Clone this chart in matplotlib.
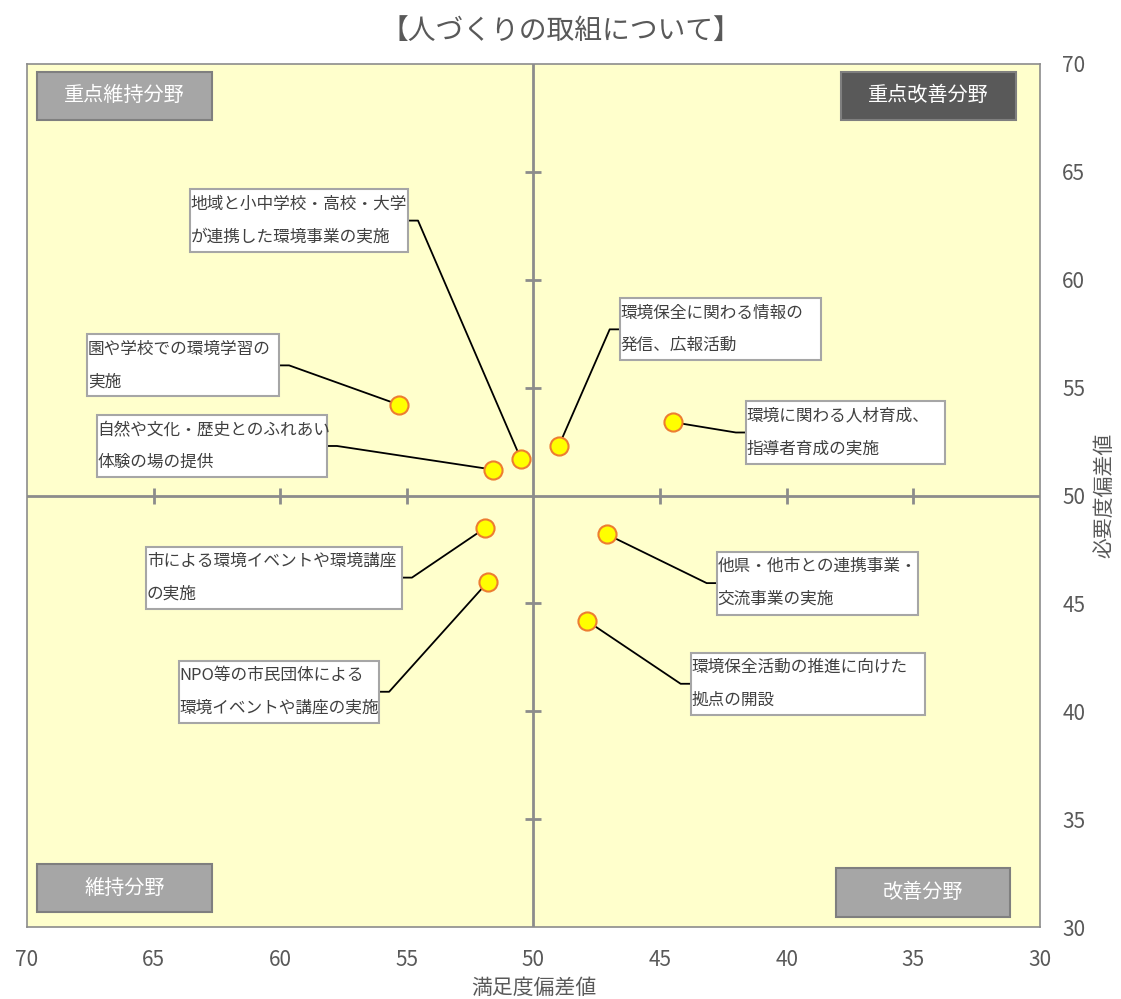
import matplotlib.pyplot as plt
from matplotlib.patches import Rectangle

plt.rcParams['font.family'] = ['Noto Sans CJK JP', 'DejaVu Sans']

# 取組ごとの満足度・必要度
names = [
    '地域と小中学校・高校・大学\nが連携した環境事業の実施',
    '園や学校での環境学習の\n実施',
    '自然や文化・歴史とのふれあい\n体験の場の提供',
    '環境保全に関わる情報の\n発信、広報活動',
    '環境に関わる人材育成、\n指導者育成の実施',
    '市による環境イベントや環境講座\nの実施',
    'NPO等の市民団体による\n環境イベントや講座の実施',
    '他県・他市との連携事業・\n交流事業の実施',
    '環境保全活動の推進に向けた\n拠点の開設',
]
manzoku = [50.5, 55.3, 51.6, 49.0, 44.5, 51.9, 51.8, 47.1, 47.9]
hitsuyou = [51.7, 54.2, 51.2, 52.3, 53.4, 48.5, 46.0, 48.2, 44.2]

quad_names = ['重点維持分野', '重点改善分野', '維持分野', '改善分野']
x_ticks = [70, 65, 60, 55, 50, 45, 40, 35, 30]
y_ticks = [30, 35, 40, 45, 50, 55, 60, 65, 70]

# ラベル枠の位置 (左, 右, 上, 下) ※x軸は反転
label_boxes = [
    (63.56, 54.96, 64.20, 61.28),
    (67.63, 60.05, 57.47, 54.59),
    (67.24, 58.16, 53.71, 50.88),
    (46.59, 38.65, 59.14, 56.26),
    (41.61, 33.76, 54.36, 51.48),
    (65.30, 55.20, 47.63, 44.76),
    (64.00, 56.10, 42.34, 39.47),
    (42.76, 34.82, 47.40, 44.48),
    (43.79, 34.55, 42.71, 39.84),
]
quad_boxes = [
    (69.61, 62.70, 69.63, 67.40),
    (37.86, 30.96, 69.63, 67.40),
    (69.61, 62.70, 32.92, 30.70),
    (38.06, 31.19, 32.74, 30.46),
]
quad_colors = ['#A6A6A6', '#595959', '#A6A6A6', '#A6A6A6']

TXT = '#595959'
GRID = '#8C8C8C'

fig = plt.figure(figsize=(11.21, 9.99), dpi=100)
ax = fig.add_axes([0.0241, 0.072, 0.9036, 0.864])
ax.set_facecolor('#FFFFCC')
ax.set_xlim(70, 30)
ax.set_ylim(30, 70)
for s in ax.spines.values():
    s.set_color('#8C8C8C')
    s.set_linewidth(1.2)

ax.set_xticks(x_ticks)
ax.set_yticks(y_ticks)
ax.yaxis.tick_right()
ax.tick_params(axis='x', length=0, pad=16, labelsize=15, labelcolor=TXT)
ax.tick_params(axis='y', length=0, pad=16, labelsize=15, labelcolor=TXT,
               left=False, right=False)
for lb in ax.get_yticklabels():
    lb.set_horizontalalignment('left')

# 中央の十字線と目盛
ax.axhline(50, color=GRID, lw=2, zorder=1)
ax.axvline(50, color=GRID, lw=2, zorder=1)
inner = [v for v in x_ticks if v not in (30, 50, 70)]
ax.plot(inner, [50] * len(inner), ls='none', marker='|', ms=11, mew=2, color=GRID, zorder=1)
ax.plot([50] * len(inner), inner, ls='none', marker='_', ms=11, mew=2, color=GRID, zorder=1)

# 象限ラベル
for (x1, x2, y1, y2), name, c in zip(quad_boxes, quad_names, quad_colors):
    ax.add_patch(Rectangle((x2, y2), x1 - x2, y1 - y2, facecolor=c,
                           edgecolor='#7F7F7F', lw=1.5, zorder=2))
    ax.text((x1 + x2) / 2, (y1 + y2) / 2, name, ha='center', va='center',
            color='white', fontsize=14.5, zorder=3)

# 引き出し線とラベル
stub = 0.4
for (x1, x2, y1, y2), name, px, py in zip(label_boxes, names, manzoku, hitsuyou):
    ym = (y1 + y2) / 2
    if x2 > px:
        edge, elbow = x2, x2 - stub
    else:
        edge, elbow = x1, x1 + stub
    ax.plot([px, elbow, edge], [py, ym, ym], color='black', lw=1.3, zorder=3)
    ax.add_patch(Rectangle((x2, y2), x1 - x2, y1 - y2, facecolor='white',
                           edgecolor='#A6A6A6', lw=1.5, zorder=4))
    ax.text(x1 - 0.03, ym, name, ha='left', va='center', color='#404040',
            fontsize=12, linespacing=2.2, zorder=5)

ax.scatter(manzoku, hitsuyou, s=170, facecolor='#FFFF00', edgecolor='#ED7D31',
           linewidth=1.5, zorder=6)

ax.set_xlabel('満足度偏差値', fontsize=15, color=TXT, labelpad=4)
ax.yaxis.set_label_position('right')
ax.set_ylabel('必要度偏差値', fontsize=15, color=TXT, labelpad=6)
fig.text(0.5, 0.969, '【人づくりの取組について】', ha='center', va='center',
         fontsize=20, color=TXT)

fig.savefig('out.png', dpi=100)
